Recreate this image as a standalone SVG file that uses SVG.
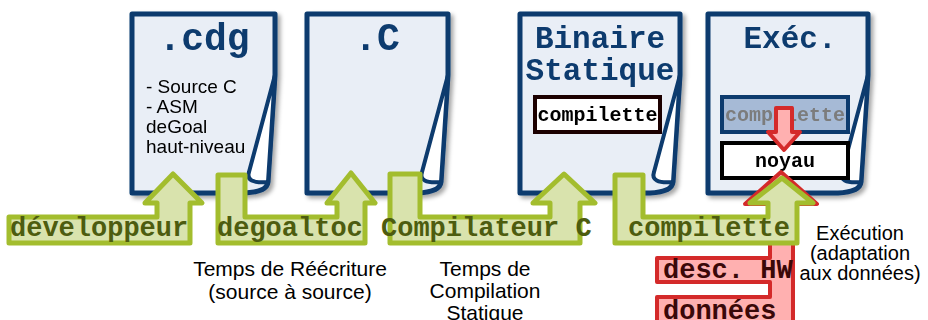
<svg xmlns="http://www.w3.org/2000/svg" width="928" height="320" viewBox="0 0 928 320">
<defs>
<filter id="sh" x="-10%" y="-10%" width="130%" height="130%">
<feDropShadow dx="3" dy="3" stdDeviation="2" flood-color="#000" flood-opacity="0.35"/>
</filter>
</defs>
<style>
.page{fill:#e9eef6;stroke:#0d3b6e;stroke-width:5;stroke-linejoin:round}
.fold{fill:#ffffff;stroke:#0d3b6e;stroke-width:4;stroke-linejoin:round}
.title{font-family:"Liberation Mono",monospace;font-weight:bold;fill:#0d3b6e;text-anchor:middle}
.body{font-family:"Liberation Sans",Arial,sans-serif;fill:#000}
.mid{text-anchor:middle}
.garrow{fill:#d9e3ad;stroke:#a3bd2e;stroke-width:5;stroke-linejoin:round}
.rarrow{fill:#ffb0b0;stroke:#d42a2a;stroke-width:4;stroke-linejoin:round}
.glab{font-family:"Liberation Mono",monospace;font-weight:bold;font-size:27px;fill:#4d5c0f}
.rlab{font-family:"Liberation Mono",monospace;font-weight:bold;font-size:27px;fill:#3a0808}
.box{font-family:"Liberation Mono",monospace;font-weight:bold;font-size:20px;text-anchor:middle}
</style>

<g id="doc-cdg" filter="url(#sh)">
<path class="page" d="M132,14 H275 V75 L268,182 Q267,192 245,193 H132 Z"/>
<path class="fold" d="M275,75 L249,172 Q245,184 268,182 Z"/>
<text class="title" x="204" y="50" font-size="38">.cdg</text>
<text class="body" font-size="19"><tspan x="146" y="93">- Source C</tspan><tspan x="146" y="113">- ASM</tspan><tspan x="146" y="133">deGoal</tspan><tspan x="146" y="153">haut-niveau</tspan></text>
</g>

<g id="doc-c" filter="url(#sh)">
<path class="page" d="M307,14 H448 V75 L441,182 Q440,192 418,193 H307 Z"/>
<path class="fold" d="M448,75 L422,172 Q418,184 441,182 Z"/>
<text class="title" x="377" y="50" font-size="38">.C</text>
</g>

<g id="doc-binaire" filter="url(#sh)">
<path class="page" d="M520,14 H680 V75 L673,182 Q672,192 650,193 H520 Z"/>
<path class="fold" d="M680,75 L654,172 Q650,184 673,182 Z"/>
<text class="title" x="600" y="48" font-size="31">Binaire</text>
<text class="title" x="600" y="80" font-size="31">Statique</text>
<rect x="535" y="97" width="125" height="35" fill="#ffffff" stroke="#1a0505" stroke-width="4"/>
<text class="box" x="597.5" y="121" fill="#000">compilette</text>
</g>

<g id="doc-exec" filter="url(#sh)">
<path class="page" d="M708,14 H868 V75 L861,182 Q860,192 838,193 H708 Z"/>
<path class="fold" d="M868,75 L842,172 Q838,184 861,182 Z"/>
<text class="title" x="790" y="48" font-size="31">Exéc.</text>
<rect x="722" y="97" width="126" height="35" fill="#a6bad6" stroke="#0d3b6e" stroke-width="4"/>
<text class="box" x="785" y="121" fill="#7c7c7c">compilette</text>
<rect x="722" y="143" width="126" height="35" fill="#ffffff" stroke="#000" stroke-width="4"/>
<text class="box" x="785" y="167" fill="#000">noyau</text>
</g>

<g id="connectors">
<path id="arrow-donnees" class="rarrow" d="M657,258 H770 V204 H745 L781,172 L817,204 H793 V330 H657 V297 H770 V282 H657 Z"/>
<path id="arrow-developpeur" class="garrow" d="M9,217 H157 V203 H145 L173,174 L202,203 H190 V243 H9 Z"/>
<path id="arrow-degoaltoc" class="garrow" d="M218,175 H245 V217 H337 V203 H327 L351,173 L375,203 H365 V243 H218 Z"/>
<path id="arrow-compilateur" class="garrow" d="M390,174 H420 V217 H550 V203 H533 L564,174 L595,203 H580 V243 H390 Z"/>
<path id="arrow-compilette" class="garrow" d="M615,175 H643 V217 H768 V203 H750 L782,178 L813,203 H797 V243 H615 Z"/>
<path id="arrow-noyau" class="rarrow" stroke-width="3" d="M776,108 H792 V132 H800 L784,150 L768,132 H776 Z"/>
<text class="glab" x="10" y="236">développeur</text>
<text class="glab" x="217" y="236">degoaltoc</text>
<text class="glab" x="381" y="236">Compilateur C</text>
<text class="glab" x="628" y="236">compilette</text>
<text class="rlab" x="663" y="278">desc. HW</text>
<text class="rlab" x="663" y="319">données</text>
</g>

<g id="labels">
<text class="body mid" font-size="21"><tspan x="290" y="276">Temps de Réécriture</tspan><tspan x="290" y="299">(source à source)</tspan></text>
<text class="body mid" font-size="21"><tspan x="485" y="276">Temps de</tspan><tspan x="485" y="298">Compilation</tspan><tspan x="485" y="320">Statique</tspan></text>
<text class="body mid" font-size="20"><tspan x="860" y="240">Exécution</tspan><tspan x="860" y="260">(adaptation</tspan><tspan x="860" y="280">aux données)</tspan></text>
</g>
</svg>
